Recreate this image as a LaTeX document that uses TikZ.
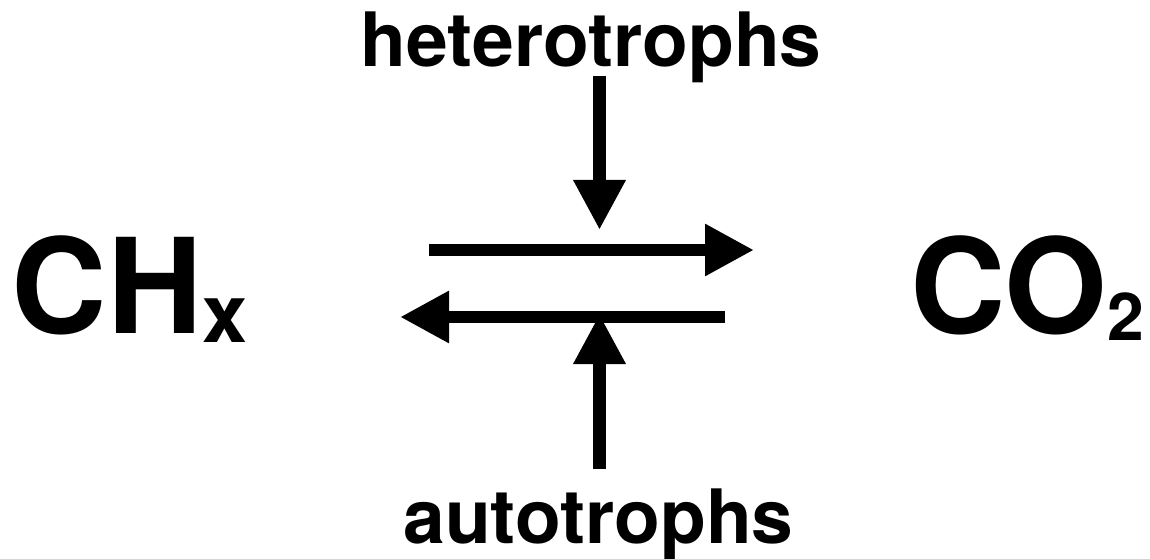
\documentclass[tikz,border=0pt]{standalone}
\usepackage{fontspec}
\setmainfont{TeX Gyre Heros}
\usetikzlibrary{arrows.meta}
\begin{document}
\begin{tikzpicture}[x=1bp,y=-1bp,
  lbl/.style={inner sep=0pt,anchor=base,font=\bfseries\fontsize{75bp}{90bp}\selectfont},
  chem/.style={inner sep=0pt,anchor=base west,font=\bfseries\fontsize{132bp}{150bp}\selectfont},
  vflow/.style={line width=13bp,-{Triangle[length=50bp,width=49bp]}},
  hflow/.style={line width=12bp,-{Triangle[length=49bp,width=49bp]}}]
\useasboundingbox (0,0) rectangle (1150,559);
% labels
\node[lbl] (het) at (591,67) {heterotrophs};
\node[lbl] (aut) at (598.5,543) {autotrophs};
\node[chem] (chx) at (11,334) {CH\raisebox{-9bp}{\fontsize{81bp}{90bp}\selectfont x}};
\node[chem] (co2) at (910,334) {CO\raisebox{-7bp}{\fontsize{66bp}{80bp}\selectfont 2}};
% connector end points
\coordinate (hetS) at (599.5,76);
\coordinate (hetE) at (599.5,230);
\coordinate (fwdS) at (429,250);
\coordinate (fwdE) at (754,250);
\coordinate (bwdS) at (725,317);
\coordinate (bwdE) at (400,317);
\coordinate (autS) at (599.5,469);
\coordinate (autE) at (599.5,314);
% arrows
\draw[hflow] (fwdS) -- (fwdE);
\draw[hflow] (bwdS) -- (bwdE);
\draw[vflow] (hetS) -- (hetE);
\draw[vflow] (autS) -- (autE);
\end{tikzpicture}
\end{document}
